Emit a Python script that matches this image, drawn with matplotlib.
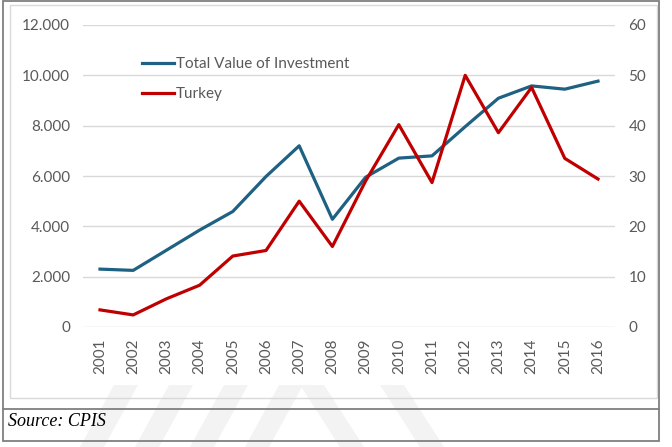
import matplotlib.pyplot as plt
from matplotlib.patches import Rectangle, Polygon
from matplotlib.lines import Line2D
from matplotlib.ticker import FuncFormatter

years = list(range(2001, 2017))
total_value = [2300, 2250, 3050, 3850, 4590, 5980, 7200, 4280, 5950, 6710, 6800, 7960, 9090, 9580, 9450, 9770]
turkey = [3.4, 2.4, 5.6, 8.3, 14.1, 15.2, 25.0, 16.0, 29.0, 40.2, 28.7, 50.0, 38.6, 47.6, 33.5, 29.4]

left_ticks = [0, 2000, 4000, 6000, 8000, 10000, 12000]
right_ticks = [0, 10, 20, 30, 40, 50, 60]

blue = '#1F6182'
red = '#C00000'
txt = '#595959'
W, H = 672, 447

plt.rcParams['font.family'] = ['Lato', 'DejaVu Sans']

fig = plt.figure(figsize=(W / 100, H / 100), dpi=100)

def fx(px):
    return px / W

def fy(py):
    return 1 - py / H

# faint watermark stripes at the bottom
for x0 in [80, 135, 190, 245]:
    fig.add_artist(Polygon([(fx(x0), fy(447)), (fx(x0 + 24), fy(447)),
                            (fx(x0 + 58), fy(385)), (fx(x0 + 34), fy(385))],
                           closed=True, fc='#f3f3f3', ec='none', zorder=0))
for x0 in [300, 380]:
    fig.add_artist(Polygon([(fx(x0), fy(385)), (fx(x0 + 24), fy(385)),
                            (fx(x0 + 64), fy(447)), (fx(x0 + 40), fy(447))],
                           closed=True, fc='#f3f3f3', ec='none', zorder=0))

# chart border and table frame
fig.add_artist(Rectangle((fx(10), fy(398)), fx(647), (398 - 5) / H, transform=fig.transFigure,
                         fill=False, ec='#d9d9d9', lw=1.0, zorder=1))
fig.add_artist(Rectangle((fx(3), fy(441)), fx(656), (441 - 1) / H, transform=fig.transFigure,
                         fill=False, ec='#7f7f7f', lw=1.3, zorder=1))
fig.add_artist(Line2D([fx(3), fx(659)], [fy(409), fy(409)], color='#7f7f7f', lw=1.3, zorder=1))

fig.text(fx(8), fy(422), 'Source: CPIS', family='Liberation Serif', style='italic',
         fontsize=13, color='black', va='center', ha='left')

ax = fig.add_axes([fx(83.4), 120 / H, fx(531.2), 302 / H])
ax.set_facecolor('none')
ax.set_xlim(2000.5, 2016.5)
ax.set_ylim(0, 12000)
ax.set_yticks(left_ticks)
ax.yaxis.set_major_formatter(FuncFormatter(lambda v, p: f'{int(v):,}'.replace(',', '.')))
ax.set_xticks(years)
ax.set_xticklabels([str(y) for y in years], rotation=90)
ax.grid(axis='y', color='#d9d9d9', lw=1.0)
ax.set_axisbelow(True)
for s in ax.spines.values():
    s.set_visible(False)
ax.tick_params(axis='both', length=0, colors=txt, labelsize=11)
ax.tick_params(axis='y', pad=9.5)
ax.tick_params(axis='x', pad=8)

ax2 = ax.twinx()
ax2.set_ylim(0, 60)
ax2.set_yticks(right_ticks)
for s in ax2.spines.values():
    s.set_visible(False)
ax2.tick_params(axis='y', length=0, colors=txt, labelsize=11, pad=10)

l1, = ax.plot(years, total_value, color=blue, lw=2.3, label='Total Value of Investment')
l2, = ax2.plot(years, turkey, color=red, lw=2.3, label='Turkey')

leg = ax2.legend(handles=[l1, l2], loc='upper left', bbox_to_anchor=(0.11, 0.893),
                 frameon=False, fontsize=11, handlelength=2.1, handletextpad=0.15,
                 labelspacing=1.05, borderpad=0, borderaxespad=0)
for t in leg.get_texts():
    t.set_color(txt)

fig.savefig('out.png', dpi=100)
